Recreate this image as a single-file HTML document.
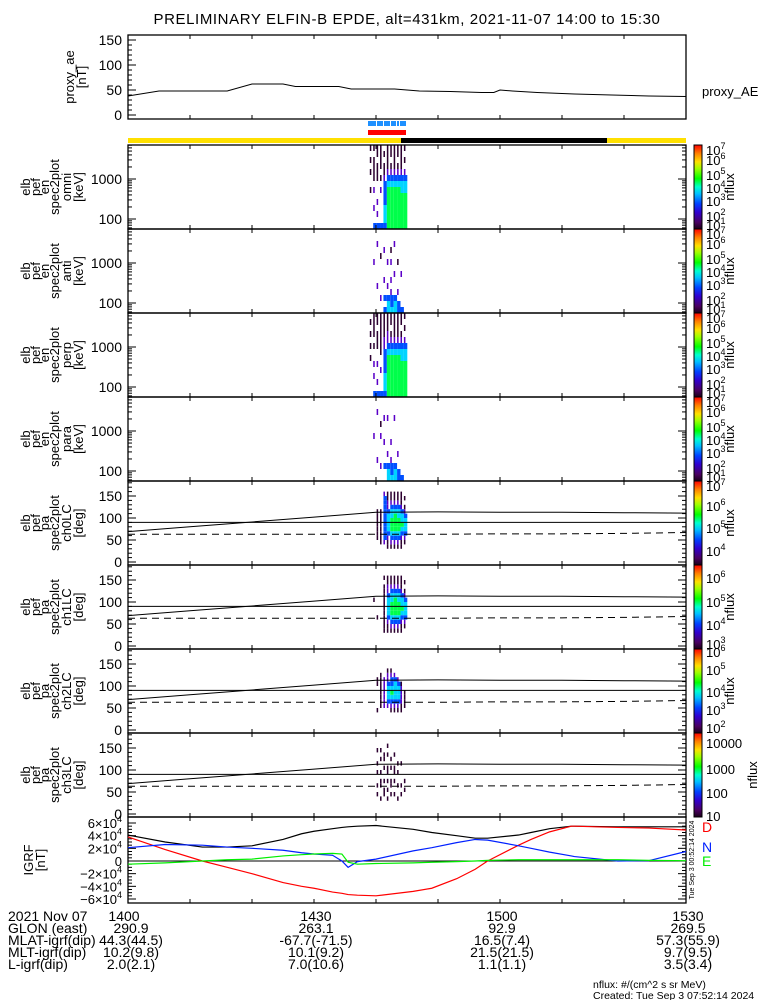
<!DOCTYPE html>
<html><head><meta charset="utf-8">
<style>
html,body{margin:0;padding:0;background:#fff;}
svg{display:block;font-family:"Liberation Sans",sans-serif;}
</style></head>
<body>
<svg id="chart" width="775" height="1000" viewBox="0 0 775 1000" xmlns="http://www.w3.org/2000/svg">
<rect width="775" height="1000" fill="#fff"/>
<text x="407" y="24" font-size="15" text-anchor="middle" letter-spacing="0.6">PRELIMINARY ELFIN-B EPDE, alt=431km, 2021-11-07 14:00 to 15:30</text>
<g id="g"></g>
</svg>
<script>
// ---------- DATA ----------
const aeTimes = [0, 5, 16, 20, 25, 27, 34, 36, 43, 47, 52, 57, 59, 60, 62, 66, 72, 78, 84, 90];
const aeValues = [38, 48, 48, 62, 62, 57, 57, 52, 52, 48, 47, 45, 45, 50, 48, 45, 42, 40, 38, 37];
const aeTicks = [0, 50, 100, 150];
const timeTickLabels = ["1400", "1430", "1500", "1530"];
const timeTickMinutes = [0, 30, 60, 90];

// spectrogram: columns start at minute 39, 0.55 min each; chars are log10 flux levels, bottom bin first
const specStartMin = 39.0;
const specStepMin = 0.55;
const energyEdgeLogMin = 1.75;
const energyBinLog = 0.15;
const omniSpec = ["......1..1.1.1","3..2..2.1111.1","3.2.2...111.11","3.....2.1.1111","34443333211.1.","55555554321111","55555554321.11","55555554321111","55555554321.11","55555544321111","5555554432.1.1"];
const antiSpec = ["..............","........2.....","....2......2..","..2......1....","3.3..2....2...","443.2...2.....","4332.2..2.1...","443...2....2..","33.2....1.....","3.....2.......",".............."];
const perpSpec = ["......1.1.1.1.","3..2.2..1.1111","3.2..2..111.11","3...2..1111111","34443333221111","55555554322111","55555554321.11","55555554321111","55555554321111","55555544321.11","5555554432.1.1"];
const paraSpec = ["..............",".......2......","...2.......2..","..2....2.1....","..3...2...2...","443.2.....2...","4332..2.......","443.......2...","33..2.........","3.............",".............."];
// pitch-angle: bins of 10 deg starting at 20 deg
const paEdgeMin = 20;
const paBin = 10;
const pa0Spec = ["..............","..............","...1111111....","..11111111....","..233333333332",".1123444432211",".1234555443211",".1234555543211",".1234555443211",".1123454432111","..123444321.1."];
const pa1Spec = ["..............","........1.....","....1.........","..............",".11111111111.1",".1123444432211",".1234555443211",".1234555543211",".1234555443211",".1123454432111","..123444321.1."];
const pa2Spec = ["..............","..............","..1.....11....","...11111111...","...2222222....","...234443221..","..1234543321..","..123444432...","..12344432....","..1122221.....","...1111......."];
const pa3Spec = ["..............","..............","..1.1..1.1..1.",".1..11.1..1.1.","..11.1..1.11..",".1.1.1.11..1.1","..1.11..1.1...","..1..1.11..1..",".1..1..1.1....","..1.1....1....","...1.1........"];
const paLineTimes = [0, 10, 20, 30, 40, 50, 60, 70, 80, 90];
const paLossCone = [69, 80, 91, 102, 113, 114, 113, 113, 112, 111];
const paLossConeDash = [63, 63, 63, 63, 63, 63, 64, 64, 65, 67];
const paTicks = [0, 50, 100, 150];

const igrfTimes = [0, 6, 12, 16, 20, 25, 28, 30, 33, 34.5, 35.5, 37, 40, 46, 49, 53, 56, 58, 63, 65, 68, 71.5, 72, 79, 84, 90];
const igrfTotal = [41000, 30000, 22000, 22000, 24000, 34000, 43000, 47000, 51000, 53000, 54000, 55000, 56000, 50000, 45000, 40000, 36000, 36000, 41000, 45000, 51000, 55000, 55000, 54000, 54000, 54000];
const igrfD = [38000, 18000, 0, -10000, -20000, -34000, -40000, -43000, -49000, -51000, -53000, -54000, -55000, -48000, -43000, -28000, -13000, 0, 25000, 34000, 46000, 55000, 55000, 53000, 52000, 49000];
const igrfN = [21000, 26000, 25000, 22000, 20000, 17000, 13000, 11000, 9000, 0, -10000, -1000, 3000, 16000, 21000, 29000, 34000, 33000, 24000, 20000, 14000, 8000, 7000, 0, 500, 15000];
const igrfE = [-5000, -3000, 0, 2000, 3000, 8000, 10000, 11000, 12000, 11000, -2000, -5000, -4000, -3000, -2000, -1000, 0, 1000, 2000, 2000, 2000, 2000, 2000, 2000, 1000, 500];
const igrfTickExp = [6, 4, 2, 0, -2, -4, -6];

const ephemLabels = ["2021 Nov 07", "GLON (east)", "MLAT-igrf(dip)", "MLT-igrf(dip)", "L-igrf(dip)"];
const ephemCol0 = ["290.9", "44.3(44.5)", "10.2(9.8)", "2.0(2.1)"];
const ephemCol1 = ["263.1", "-67.7(-71.5)", "10.1(9.2)", "7.0(10.6)"];
const ephemCol2 = ["92.9", "16.5(7.4)", "21.5(21.5)", "1.1(1.1)"];
const ephemCol3 = ["269.5", "57.3(55.9)", "9.7(9.5)", "3.5(3.4)"];

// ---------- HELPERS ----------
const NS = "http://www.w3.org/2000/svg";
const G = document.getElementById("g");
const X0 = 128, X1 = 686;
const xOf = t => X0 + (t / 90) * (X1 - X0);
function mk(tag, attrs, parent) {
  const e = document.createElementNS(NS, tag);
  for (const k in attrs) e.setAttribute(k, attrs[k]);
  (parent || G).appendChild(e);
  return e;
}
function txt(x, y, s, size, anchor, fill) {
  const e = mk("text", {x: x, y: y, "font-size": size || 14, "text-anchor": anchor || "start", fill: fill || "#000"});
  e.textContent = s;
  return e;
}
const levelColors = {"1": "#2c0030", "2": "#5a00c8", "3": "#0050ff", "4": "#00d4ff", "5": "#00ff4a", "6": "#a0ff00"};

function frame(top, bot, name) {
  const r = mk("rect", {x: X0, y: top, width: X1 - X0, height: bot - top, fill: "none", stroke: "#000", "stroke-width": 1.3});
  
  
  for (let m = 10; m < 90; m += 10) {
    mk("line", {x1: xOf(m), x2: xOf(m), y1: top, y2: top + 4, stroke: "#000"});
    mk("line", {x1: xOf(m), x2: xOf(m), y1: bot, y2: bot - 4, stroke: "#000"});
  }
}
function rotLabels(lines, xs, cy, name) {
  const gl = mk("g", {});
  
  
  lines.forEach((s, i) => {
    const e = mk("text", {x: xs[i], y: cy, "font-size": 13, "text-anchor": "middle", transform: `rotate(-90 ${xs[i]} ${cy})`}, gl);
    e.textContent = s;
  });
}
function colorbar(top, bot, labels, nameX, name) {
  const r = mk("rect", {x: 694, y: top, width: 8, height: bot - top, fill: "url(#cbgrad)", stroke: "#000", "stroke-width": 1});
  
  
  labels.forEach(l => {
    const t = txt(706, l[1] + 5, "", 13);
    if (l[2]) {
      t.textContent = l[0];
    } else {
      const a = mk("tspan", {}, t); a.textContent = "10";
      const b = mk("tspan", {dy: -6, "font-size": 9}, t); b.textContent = l[0];
    }
  });
  const cy = (top + bot) / 2;
  const n = mk("text", {x: nameX, y: cy, "font-size": 13, "text-anchor": "middle", transform: `rotate(-90 ${nameX} ${cy})`});
  n.textContent = "nflux";
}

// gradient
const defs = mk("defs", {});
const grad = mk("linearGradient", {id: "cbgrad", x1: 0, y1: 1, x2: 0, y2: 0}, defs);
[[0, "#1a0018"], [0.08, "#4a0060"], [0.2, "#3000d0"], [0.3, "#0040ff"], [0.42, "#00c0ff"], [0.5, "#00ffd0"], [0.6, "#00ff00"], [0.72, "#a0ff00"], [0.8, "#ffe000"], [0.9, "#ff8000"], [1, "#ff0000"]]
  .forEach(s => mk("stop", {offset: s[0], "stop-color": s[1]}, grad));

// ---------- PROXY AE ----------
const AE_T = 35, AE_B = 119;
const aeY = v => AE_B - 4 - v * 0.5;
frame(AE_T, AE_B, "proxy-ae-panel");
aeTicks.forEach(v => {
  mk("line", {x1: X0, x2: X0 + 8, y1: aeY(v), y2: aeY(v), stroke: "#000"});
  txt(122, aeY(v) + 5, String(v), 14, "end");
});
for (let v = 10; v < 160; v += 10) if (v % 50) mk("line", {x1: X0, x2: X0 + 4, y1: aeY(v), y2: aeY(v), stroke: "#000"});
const aeLine = mk("polyline", {points: aeTimes.map((t, i) => xOf(t) + "," + aeY(aeValues[i])).join(" "), fill: "none", stroke: "#000", "stroke-width": 1});


rotLabels(["proxy_ae", "[nT]"], [74, 86], 77, "proxy-ae-axis-title");
const aeLeg = txt(702, 96, "proxy_AE", 13);



// ---------- STATUS BARS ----------
const blueBar = mk("g", {});


[[368, 376], [377, 383], [384, 390], [391, 396], [397, 399], [400, 406]].forEach(s => mk("rect", {x: s[0], y: 121, width: s[1] - s[0], height: 5, fill: "#1e90ff"}, blueBar));
const redBar = mk("rect", {x: 368, y: 130, width: 38, height: 5, fill: "#ff0000"});


const yBar = mk("rect", {x: X0, y: 138, width: X1 - X0, height: 5, fill: "#ffe000"});


const kBar = mk("rect", {x: 401, y: 138, width: 206, height: 5, fill: "#000"});



// ---------- SPECTROGRAMS ----------
function drawMatrix(mat, yOfBin, name) {
  const gm = mk("g", {});
  
  
  mat.forEach((col, ci) => {
    const xa = xOf(specStartMin + ci * specStepMin), xb = xOf(specStartMin + (ci + 1) * specStepMin);
    for (let r = 0; r < col.length; r++) {
      const c = col[r];
      if (c === ".") continue;
      const [ya, yb] = yOfBin(r);
      const w = (c === "1" || c === "2") ? Math.max(1.2, (xb - xa) * 0.45) : (xb - xa);
      mk("rect", {x: xa.toFixed(2), y: Math.min(ya, yb).toFixed(2), width: w.toFixed(2), height: Math.abs(yb - ya).toFixed(2), fill: levelColors[c]}, gm);
    }
  });
}
const specPanels = [
  {top: 145, mat: omniSpec, lab: "omni", name: "omni"},
  {top: 229, mat: antiSpec, lab: "anti", name: "anti"},
  {top: 313, mat: perpSpec, lab: "perp", name: "perp"},
  {top: 397, mat: paraSpec, lab: "para", name: "para"}
];
const cbSpec = [["7", 0], ["6", 10], ["5", 25], ["4", 38], ["3", 51], ["2", 66], ["1", 75]];
specPanels.forEach(p => {
  const bot = p.top + 84;
  const eY = lg => bot - (lg - energyEdgeLogMin) * 40;
  drawMatrix(p.mat, r => [eY(energyEdgeLogMin + r * energyBinLog), eY(energyEdgeLogMin + (r + 1) * energyBinLog)], "spectrogram-" + p.name);
  frame(p.top, bot, "energy-panel-" + p.name);
  for (let dec = 1; dec <= 3; dec++) for (let k = 1; k <= 9; k++) {
    const y = eY(dec + Math.log10(k));
    if (y < p.top || y > bot) continue;
    const L = k === 1 ? 8 : 4;
    mk("line", {x1: X0, x2: X0 + L, y1: y, y2: y, stroke: "#000"});
    mk("line", {x1: X1, x2: X1 - L, y1: y, y2: y, stroke: "#000"});
  }
  txt(122, eY(3) + 5, "1000", 14, "end");
  txt(122, eY(2) + 5, "100", 14, "end");
  rotLabels(["elb", "pef", "en", "spec2plot", p.lab, "[keV]"], [30, 40, 49, 59, 71, 83], p.top + 42, "energy-axis-title-" + p.name);
  colorbar(p.top, bot, cbSpec.map(l => [l[0], p.top + 5 + l[1]]), 734, "colorbar-" + p.name);
});

// ---------- PITCH ANGLE ----------
const paPanels = [
  {top: 481, mat: pa0Spec, lab: "ch0LC", cb: [["7", 5], ["6", 25], ["5", 47], ["4", 70]]},
  {top: 565, mat: pa1Spec, lab: "ch1LC", cb: [["6", 13], ["5", 37], ["4", 60], ["3", 79]]},
  {top: 649, mat: pa2Spec, lab: "ch2LC", cb: [["6", 3], ["5", 21], ["4", 43], ["3", 61], ["2", 79]]},
  {top: 733, mat: pa3Spec, lab: "ch3LC", cb: [["10000", 10, 1], ["1000", 36, 1], ["100", 60, 1], ["10", 83, 1]]}
];
paPanels.forEach((p, pi) => {
  const bot = p.top + 84;
  const dY = d => bot - 3 - d * 0.44;
  drawMatrix(p.mat, r => [dY(paEdgeMin + r * paBin), dY(paEdgeMin + (r + 1) * paBin)], "pitch-angle-spectrogram-" + p.lab);
  frame(p.top, bot, "pitch-angle-panel-" + p.lab);
  for (let d = 0; d <= 180; d += 10) {
    const L = d % 50 === 0 ? 8 : 4;
    if (dY(d) < p.top) continue;
    mk("line", {x1: X0, x2: X0 + L, y1: dY(d), y2: dY(d), stroke: "#000"});
    mk("line", {x1: X1, x2: X1 - L, y1: dY(d), y2: dY(d), stroke: "#000"});
  }
  paTicks.forEach(d => txt(122, dY(d) + 5, String(d), 14, "end"));
  const h = mk("line", {x1: X0, x2: X1, y1: dY(90), y2: dY(90), stroke: "#000", "stroke-width": 1});
  
  
  const lc = mk("polyline", {points: paLineTimes.map((t, i) => xOf(t) + "," + dY(paLossCone[i])).join(" "), fill: "none", stroke: "#000", "stroke-width": 1});
  
  
  const alc = mk("polyline", {points: paLineTimes.map((t, i) => xOf(t) + "," + dY(paLossConeDash[i])).join(" "), fill: "none", stroke: "#000", "stroke-width": 1, "stroke-dasharray": "7,5"});
  
  
  rotLabels(["elb", "pef", "pa", "spec2plot", p.lab, "[deg]"], [30, 40, 49, 59, 71, 83], p.top + 42, "pitch-angle-axis-title-" + p.lab);
  colorbar(p.top, bot, p.cb.map(l => [l[0], p.top + l[1], l[2]]), pi === 3 ? 757 : 734, "colorbar-" + p.lab);
});

// ---------- IGRF ----------
const IG_T = 817, IG_B = 903;
const bY = v => 861 - v / 1579;
frame(IG_T, IG_B, "igrf-panel");
for (let v = -60000; v <= 60000; v += 5000) {
  const L = v % 20000 === 0 ? 8 : 4;
  mk("line", {x1: X0, x2: X0 + L, y1: bY(v), y2: bY(v), stroke: "#000"});
  mk("line", {x1: X1, x2: X1 - L, y1: bY(v), y2: bY(v), stroke: "#000"});
}
igrfTickExp.forEach(m => {
  const t = txt(122, bY(m * 10000) + 5, "", 13, "end");
  if (m === 0) { t.textContent = "0"; return; }
  const a = mk("tspan", {}, t); a.textContent = (m < 0 ? "\u2212" : "") + Math.abs(m) + "\u00d710";
  const b = mk("tspan", {dy: -6, "font-size": 9}, t); b.textContent = "4";
});
mk("line", {x1: X0, x2: X1, y1: bY(0), y2: bY(0), stroke: "#000", "stroke-width": 1});
[[igrfTotal, "#000", "igrf-total-line"], [igrfD, "#ff0000", "igrf-d-line"], [igrfN, "#0020ff", "igrf-n-line"], [igrfE, "#00ee00", "igrf-e-line"]].forEach(s => {
  const pl = mk("polyline", {points: igrfTimes.map((t, i) => xOf(t) + "," + bY(s[0][i])).join(" "), fill: "none", stroke: s[1], "stroke-width": 1.2});
  
  
});
rotLabels(["IGRF", "[nT]"], [33, 45], 860, "igrf-axis-title");
[["D", 832, "#ff0000"], ["N", 852, "#0020ff"], ["E", 866, "#00ee00"]].forEach(l => {
  const t = txt(702, l[1], l[0], 14, "start", l[2]);
  
  
});
const stamp = mk("text", {x: 694, y: 860, "font-size": 7, "text-anchor": "middle", transform: "rotate(-90 694 860)"});
stamp.textContent = "Tue Sep  3 00:52:14 2024";

// ---------- EPHEMERIS ----------
const rowsY = [921, 933, 945, 957, 969];
const eg = mk("g", {});


ephemLabels.forEach((s, i) => { const t = txt(8, rowsY[i], s, 14); eg.appendChild(t); });
const colX = [131, 316, 502, 688];
timeTickLabels.forEach((s, i) => { const t = txt(i === 0 ? 124 : colX[i], rowsY[0], s, 14, "middle"); eg.appendChild(t); });
[ephemCol0, ephemCol1, ephemCol2, ephemCol3].forEach((col, ci) => col.forEach((s, ri) => { const t = txt(colX[ci], rowsY[ri + 1], s, 14, "middle"); eg.appendChild(t); }));

const f1 = txt(593, 988, "nflux: #/(cm^2 s sr MeV)", 10.5);


const f2 = txt(593, 999, "Created: Tue Sep  3 07:52:14 2024", 10.5);


</script>
</body></html>
